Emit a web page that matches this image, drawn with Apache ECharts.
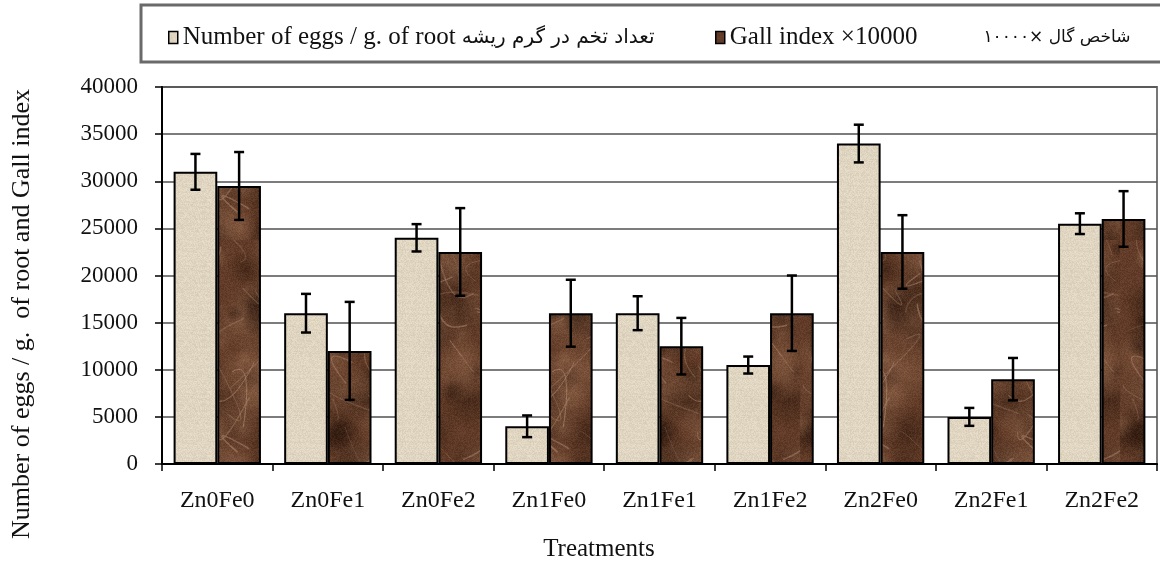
<!DOCTYPE html>
<html>
<head>
<meta charset="utf-8">
<script src="https://cdn.jsdelivr.net/npm/echarts@6/dist/echarts.min.js"></script>
<style>
html, body { margin: 0; padding: 0; background: #fff; }
#chart { width: 1160px; height: 562px; }
</style>
</head>
<body>
<div id="chart"></div>
<script>
var treatments = ['Zn0Fe0', 'Zn0Fe1', 'Zn0Fe2', 'Zn1Fe0', 'Zn1Fe1', 'Zn1Fe2', 'Zn2Fe0', 'Zn2Fe1', 'Zn2Fe2'];
var eggs    = [31000, 16000, 24000, 4000, 16000, 10500, 34000, 5000, 25500];
var eggsErr = [1900, 2050, 1450, 1150, 1800, 900, 2000, 950, 1100];
var gall    = [29500, 12000, 22500, 16000, 12500, 16000, 22500, 9000, 26000];
var gallErr = [3600, 5200, 4650, 3550, 3000, 4000, 3900, 2250, 2950];

var eggsName = 'Number of eggs / g. of root';
var eggsFa = 'تعداد تخم در گرم ریشه';
var gallName = 'Gall index ×10000';
var gallFa = 'شاخص گال ×۱۰۰۰۰';

var serif = "'Liberation Serif', 'DejaVu Serif', 'DejaVu Sans', serif";
var catGap = 0.21;

// small seeded generator, only used for the bar textures
function rng(seed) {
    var s = seed >>> 0;
    return function () {
        s = (Math.imul(s, 1664525) + 1013904223) >>> 0;
        return s / 4294967296;
    };
}

function lightTexture() {
    var c = document.createElement('canvas');
    c.width = 64; c.height = 64;
    var ctx = c.getContext('2d');
    var img = ctx.createImageData(64, 64);
    var r = rng(7);
    for (var y = 0; y < 64; y++) {
        var row = (r() - 0.5) * 5;
        for (var x = 0; x < 64; x++) {
            var n = (r() - 0.5) * 18 + row;
            var i = (y * 64 + x) * 4;
            img.data[i] = 223 + n;
            img.data[i + 1] = 213 + n;
            img.data[i + 2] = 193 + n;
            img.data[i + 3] = 255;
        }
    }
    ctx.putImageData(img, 0, 0);
    return c;
}

function darkTexture() {
    var w = 160, h = 240;
    var c = document.createElement('canvas');
    c.width = w; c.height = h;
    var ctx = c.getContext('2d');
    var r = rng(31);
    ctx.fillStyle = 'rgb(98,60,40)';
    ctx.fillRect(0, 0, w, h);
    for (var k = 0; k < 80; k++) {
        var x = r() * w, y = r() * h, rad = 8 + r() * 26;
        var g = ctx.createRadialGradient(x, y, 0, x, y, rad);
        var col = r() < 0.5 ? 'rgba(48,26,15,' : 'rgba(140,98,72,';
        g.addColorStop(0, col + '0.55)');
        g.addColorStop(1, col + '0)');
        ctx.fillStyle = g;
        ctx.fillRect(x - rad, y - rad, rad * 2, rad * 2);
    }
    for (var v = 0; v < 30; v++) {
        ctx.beginPath();
        var x0 = r() * w, y0 = r() * h;
        ctx.moveTo(x0, y0);
        ctx.quadraticCurveTo(x0 + (r() - 0.5) * 80, y0 + (r() - 0.5) * 80,
            x0 + (r() - 0.5) * 120, y0 + (r() - 0.5) * 120);
        ctx.strokeStyle = 'rgba(185,145,120,' + (0.2 + r() * 0.3) + ')';
        ctx.lineWidth = 0.6 + r() * 1.2;
        ctx.stroke();
    }
    var img = ctx.getImageData(0, 0, w, h);
    for (var i = 0; i < img.data.length; i += 4) {
        var n = (r() - 0.5) * 18;
        img.data[i] += n; img.data[i + 1] += n; img.data[i + 2] += n;
    }
    ctx.putImageData(img, 0, 0);
    return c;
}

var lightFill = { image: lightTexture(), repeat: 'repeat' };
var darkFill = { image: darkTexture(), repeat: 'repeat' };

function errData(vals, errs) {
    return vals.map(function (v, i) { return [i, v, errs[i]]; });
}

// side: -1 left bar, +1 right bar
function errorBars(side) {
    return function (params, api) {
        var x = api.value(0), v = api.value(1), e = api.value(2);
        var hi = api.coord([x, v + e]);
        var lo = api.coord([x, v - e]);
        var band = api.size([1, 0])[0];
        var bw = band * (1 - catGap) / 2;
        var cx = hi[0] + side * bw / 2;
        var cap = 5;
        var st = { stroke: '#000', lineWidth: 2.5 };
        return {
            type: 'group',
            children: [
                { type: 'line', shape: { x1: cx, y1: hi[1], x2: cx, y2: lo[1] }, style: st },
                { type: 'line', shape: { x1: cx - cap, y1: hi[1], x2: cx + cap, y2: hi[1] }, style: st },
                { type: 'line', shape: { x1: cx - cap, y1: lo[1], x2: cx + cap, y2: lo[1] }, style: st }
            ]
        };
    };
}

var myChart = echarts.init(document.getElementById('chart'));

var legendBase = {
    top: 20,
    icon: 'rect',
    itemWidth: 9,
    itemHeight: 12,
    itemStyle: { borderColor: '#000', borderWidth: 1.5 },
    selectedMode: false,
    formatter: function (name) {
        if (name === eggsName) return '{en|' + name + '} {fa1|' + eggsFa + '}';
        return '{en|' + name + '}{gap|}{fa2|' + gallFa + '}';
    },
    textStyle: {
        fontFamily: serif, fontSize: 25, color: '#111',
        rich: {
            en: { fontFamily: serif, fontSize: 25, color: '#111' },
            fa1: { fontFamily: "'DejaVu Sans', sans-serif", fontSize: 20, color: '#111' },
            fa2: { fontFamily: "'DejaVu Sans', sans-serif", fontSize: 17, color: '#111' },
            gap: { width: 66 }
        }
    }
};

var option = {
    backgroundColor: '#fff',
    animation: false,
    legend: [
        Object.assign({}, legendBase, { left: 163, data: [eggsName] }),
        Object.assign({}, legendBase, { left: 710, data: [gallName] })
    ],
    grid: {
        left: 162, right: 3, top: 87, bottom: 98,
        show: true, borderColor: '#777', borderWidth: 2
    },
    xAxis: {
        type: 'category',
        data: treatments,
        axisLine: { lineStyle: { color: '#000', width: 2 } },
        axisTick: { show: true, length: 7, lineStyle: { color: '#000', width: 1.5 } },
        axisLabel: { margin: 25, fontFamily: serif, fontSize: 24, color: '#111' }
    },
    yAxis: {
        type: 'value',
        min: 0, max: 40000, interval: 5000,
        axisLine: { show: true, lineStyle: { color: '#000', width: 2 } },
        axisTick: { show: true, length: 7, lineStyle: { color: '#000', width: 1.5 } },
        axisLabel: {
            margin: 24, fontFamily: serif, fontSize: 23, color: '#111',
            formatter: function (v) { return String(v); }
        },
        splitLine: { lineStyle: { color: '#505050', width: 1.5 } }
    },
    graphic: [
        {
            type: 'rect',
            shape: { x: 141, y: 5, width: 1040, height: 57 },
            style: { fill: 'none', stroke: '#6a6a6a', lineWidth: 3 }
        },
        {
            type: 'text',
            x: 22, y: 314, rotation: Math.PI / 2,
            style: {
                text: 'Number of eggs / g.  of root and Gall index',
                font: '26px ' + serif, fill: '#111',
                align: 'center', verticalAlign: 'middle'
            }
        },
        {
            type: 'text',
            x: 599, y: 549,
            style: {
                text: 'Treatments',
                font: '25px ' + serif, fill: '#111',
                align: 'center', verticalAlign: 'middle'
            }
        }
    ],
    series: [
        {
            name: eggsName,
            type: 'bar',
            data: eggs,
            barGap: '0%',
            barCategoryGap: (catGap * 100) + '%',
            itemStyle: { color: lightFill, borderColor: '#000', borderWidth: 2 }
        },
        {
            name: gallName,
            type: 'bar',
            data: gall,
            itemStyle: { color: darkFill, borderColor: '#000', borderWidth: 2 }
        },
        {
            type: 'custom',
            renderItem: errorBars(-1),
            data: errData(eggs, eggsErr),
            z: 10, silent: true
        },
        {
            type: 'custom',
            renderItem: errorBars(1),
            data: errData(gall, gallErr),
            z: 10, silent: true
        }
    ]
};

myChart.setOption(option);
</script>
</body>
</html>
